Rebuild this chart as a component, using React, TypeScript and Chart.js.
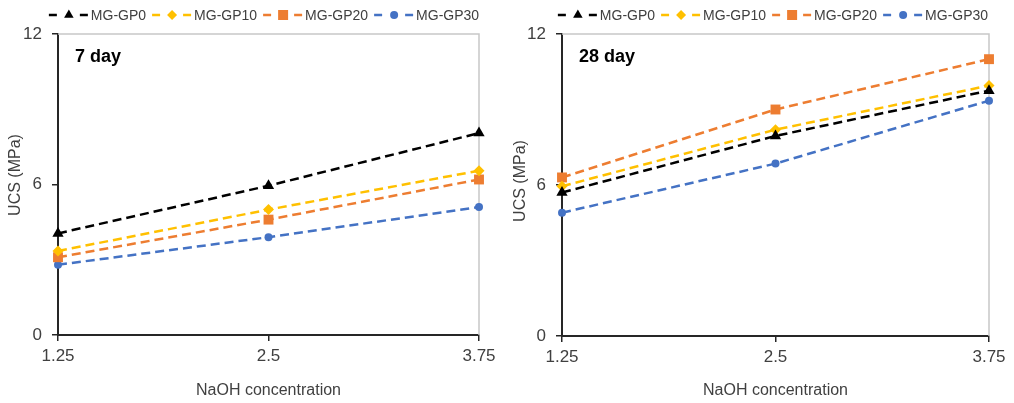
import React, { useEffect, useRef } from 'react';
import { Chart, registerables } from 'chart.js';

Chart.register(...registerables);

// ---- data ----
const naoh = [1.25, 2.5, 3.75];
const xTickValues = [1.25, 2.5, 3.75];
const seriesNames = ['MG-GP0', 'MG-GP10', 'MG-GP20', 'MG-GP30'];

const day7GP0 = [4.05, 5.95, 8.05];
const day7GP10 = [3.35, 5.0, 6.55];
const day7GP20 = [3.1, 4.6, 6.2];
const day7GP30 = [2.8, 3.9, 5.1];

const day28GP0 = [5.7, 7.95, 9.75];
const day28GP10 = [5.95, 8.2, 9.95];
const day28GP20 = [6.3, 9.0, 11.0];
const day28GP30 = [4.9, 6.85, 9.35];

const seriesColors = ['#000000', '#FFC000', '#ED7D31', '#4472C4'];
const seriesMarkers = ['triangle', 'rectRot', 'rect', 'circle'];
const markerRadii = [6.5, 5.5, 7, 4];

const FONT = '"Liberation Sans", Arial, sans-serif';
const AXIS_COLOR = '#262626';
const TEXT_COLOR = '#404040';

function drawShape(ctx: CanvasRenderingContext2D, style: string, x: number, y: number, r: number, color: string) {
  ctx.save();
  ctx.fillStyle = color;
  ctx.setLineDash([]);
  ctx.beginPath();
  if (style === 'triangle') {
    ctx.moveTo(x, y - r);
    ctx.lineTo(x + r * 0.866, y + r * 0.5);
    ctx.lineTo(x - r * 0.866, y + r * 0.5);
    ctx.closePath();
  } else if (style === 'rectRot') {
    ctx.moveTo(x, y - r);
    ctx.lineTo(x + r, y);
    ctx.lineTo(x, y + r);
    ctx.lineTo(x - r, y);
    ctx.closePath();
  } else if (style === 'rect') {
    ctx.rect(x - r, y - r, 2 * r, 2 * r);
  } else {
    ctx.arc(x, y, r, 0, Math.PI * 2);
  }
  ctx.fill();
  ctx.restore();
}

function makeDecorPlugin(title: string, legendCenter: number, yTitleX: number, yTitleY: number) {
  return {
    id: 'decor' + title.replace(/\s/g, ''),
    beforeDatasetsDraw(chart: any) {
      const { ctx, chartArea } = chart;
      ctx.save();
      ctx.strokeStyle = '#c8c8c8';
      ctx.lineWidth = 1.5;
      ctx.beginPath();
      ctx.moveTo(chartArea.left, chartArea.top);
      ctx.lineTo(chartArea.right, chartArea.top);
      ctx.lineTo(chartArea.right, chartArea.bottom);
      ctx.stroke();
      ctx.restore();
    },
    afterDraw(chart: any) {
      const { ctx, chartArea } = chart;
      ctx.save();
      // y axis title
      ctx.save();
      ctx.translate(yTitleX, yTitleY);
      ctx.rotate(-Math.PI / 2);
      ctx.font = `16px ${FONT}`;
      ctx.fillStyle = TEXT_COLOR;
      ctx.textAlign = 'center';
      ctx.textBaseline = 'middle';
      ctx.fillText('UCS (MPa)', 0, 0);
      ctx.restore();

      // panel label
      ctx.font = `bold 18px ${FONT}`;
      ctx.fillStyle = '#000';
      ctx.textBaseline = 'middle';
      ctx.textAlign = 'left';
      ctx.fillText(title, chartArea.left + 17, 57);

      // legend
      ctx.font = `14px ${FONT}`;
      const widths = seriesNames.map((n) => ctx.measureText(n).width);
      const sym = 42;
      const gap = 6;
      const total = widths.reduce((a, b) => a + b, 0) + sym * seriesNames.length + gap * (seriesNames.length - 1);
      let x = legendCenter - total / 2;
      const y = 15;
      const legendRadii = [5.5, 5, 5, 4];
      seriesNames.forEach((n, i) => {
        ctx.strokeStyle = seriesColors[i];
        ctx.lineWidth = 2.5;
        ctx.setLineDash([]);
        ctx.beginPath();
        ctx.moveTo(x, y);
        ctx.lineTo(x + 8, y);
        ctx.moveTo(x + 31, y);
        ctx.lineTo(x + 39, y);
        ctx.stroke();
        drawShape(ctx, seriesMarkers[i], x + 20, y, legendRadii[i], seriesColors[i]);
        ctx.fillStyle = TEXT_COLOR;
        ctx.textBaseline = 'middle';
        ctx.fillText(n, x + sym, y + 1);
        x += sym + widths[i] + gap;
      });
      ctx.restore();
    },
  };
}

function Panel({
  title,
  values,
  padRight,
  bottomH,
  leftW,
  yTitleX,
  yTitleY,
  legendCenter,
}: {
  title: string;
  values: number[][];
  padRight: number;
  bottomH: number;
  leftW: number;
  yTitleX: number;
  yTitleY: number;
  legendCenter: number;
}) {
  const ref = useRef<HTMLCanvasElement>(null);
  useEffect(() => {
    const canvas = ref.current!;
    const chart = new Chart(canvas, {
      type: 'line',
      data: {
        datasets: seriesNames.map((name, i) => ({
          label: name,
          data: naoh.map((x, j) => ({ x, y: values[i][j] })),
          borderColor: seriesColors[i],
          backgroundColor: seriesColors[i],
          pointBackgroundColor: seriesColors[i],
          pointBorderColor: seriesColors[i],
          pointBorderWidth: 0,
          borderWidth: 2.5,
          borderDash: [9, 5],
          pointStyle: seriesMarkers[i] as any,
          pointRadius: markerRadii[i],
          tension: 0,
          clip: false as any,
        })),
      },
      options: {
        responsive: false,
        animation: false,
        devicePixelRatio: 1,
        layout: { padding: { top: 34, right: padRight, left: 0, bottom: 0 } },
        plugins: { legend: { display: false }, tooltip: { enabled: false } },
        scales: {
          x: {
            type: 'linear',
            min: 1.25,
            max: 3.75,
            afterBuildTicks: (s: any) => {
              s.ticks = xTickValues.map((v) => ({ value: v }));
            },
            afterFit: (s: any) => {
              s.height = bottomH;
            },
            ticks: {
              callback: (v: any) => String(v),
              font: { size: 17, family: FONT },
              color: TEXT_COLOR,
              padding: 5,
              maxRotation: 0,
              autoSkip: false,
            },
            grid: { drawOnChartArea: false, drawTicks: true, tickLength: 6, color: AXIS_COLOR, lineWidth: 1.5 },
            border: { display: true, color: AXIS_COLOR, width: 2 },
            title: {
              display: true,
              text: 'NaOH concentration',
              font: { size: 16, family: FONT },
              color: TEXT_COLOR,
              padding: { top: 0, bottom: 3 },
            },
          },
          y: {
            type: 'linear',
            min: 0,
            max: 12,
            afterFit: (s: any) => {
              s.width = leftW;
            },
            ticks: {
              stepSize: 6,
              font: { size: 17, family: FONT },
              color: TEXT_COLOR,
              padding: 10,
            },
            grid: { drawOnChartArea: false, drawTicks: true, tickLength: 6, color: AXIS_COLOR, lineWidth: 1.5 },
            border: { display: true, color: AXIS_COLOR, width: 2 },
            title: { display: false },
          },
        },
      } as any,
      plugins: [makeDecorPlugin(title, legendCenter, yTitleX, yTitleY)],
    });
    return () => chart.destroy();
  }, []);
  return <canvas ref={ref} width={507} height={403} style={{ display: 'block', width: 507, height: 403 }} />;
}

export default function App() {
  return (
    <div style={{ position: 'fixed', left: 0, top: 0, width: 1014, height: 403, display: 'flex', background: '#fff' }}>
      <Panel
        title="7 day"
        values={[day7GP0, day7GP10, day7GP20, day7GP30]}
        padRight={28}
        bottomH={68}
        leftW={58}
        yTitleX={16}
        yTitleY={175}
        legendCenter={264}
      />
      <Panel
        title="28 day"
        values={[day28GP0, day28GP10, day28GP20, day28GP30]}
        padRight={25}
        bottomH={67}
        leftW={55}
        yTitleX={14}
        yTitleY={181}
        legendCenter={266}
      />
    </div>
  );
}
